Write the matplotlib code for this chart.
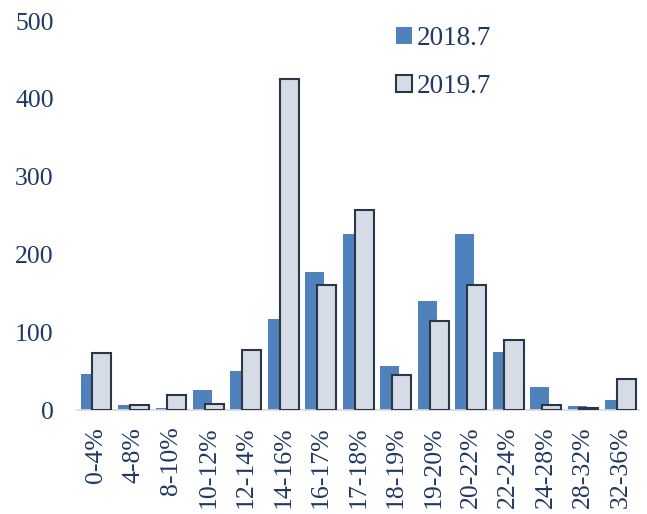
import matplotlib
matplotlib.use("Agg")
import matplotlib.pyplot as plt
import numpy as np

# 收益率区间
categories = ["0-4%", "4-8%", "8-10%", "10-12%", "12-14%", "14-16%", "16-17%",
              "17-18%", "18-19%", "19-20%", "20-22%", "22-24%", "24-28%",
              "28-32%", "32-36%"]
vals_2018 = [46, 6, 3, 26, 50, 117, 177, 226, 57, 140, 226, 74, 29, 5, 13]
vals_2019 = [73, 7, 19, 8, 77, 425, 161, 257, 45, 114, 161, 90, 6, 3, 40]
yticks = [0, 100, 200, 300, 400, 500]

text_color = "#1f3864"
blue = "#4f81bd"
gray = "#d6dce5"
edge = "#2b3648"

plt.rcParams["font.family"] = ["Liberation Serif", "DejaVu Serif"]

fig = plt.figure(figsize=(6.47, 5.14), dpi=100)
ax = fig.add_axes([0.1195, 0.2023, 0.8685, 0.7567])

x = np.arange(len(categories))
w = 0.51
off = 0.157
ax.bar(x - off, vals_2018, width=w, color=blue, label="2018.7", zorder=2)
ax.bar(x + off, vals_2019, width=w, color=gray, edgecolor=edge, linewidth=1.5,
       label="2019.7", zorder=3)

ax.set_xlim(-0.5, len(categories) - 0.5)
ax.set_ylim(0, 500)
ax.set_yticks(yticks)
ax.set_yticklabels([str(v) for v in yticks])
ax.set_xticks(x)
ax.set_xticklabels(categories, rotation=90)

for s in ["top", "right", "left"]:
    ax.spines[s].set_visible(False)
ax.spines["bottom"].set_color("#d9d9d9")
ax.spines["bottom"].set_linewidth(1.2)
ax.tick_params(axis="both", length=0, colors=text_color, labelsize=18.5)
ax.tick_params(axis="y", pad=17)
ax.tick_params(axis="x", pad=12)

leg = ax.legend(loc="upper left", bbox_to_anchor=(0.523, 1.05), frameon=False,
                fontsize=19.5, handlelength=0.6, handleheight=0.6,
                handletextpad=0.2, labelspacing=0.85)
for t in leg.get_texts():
    t.set_color(text_color)

fig.savefig("out.png", dpi=100)
